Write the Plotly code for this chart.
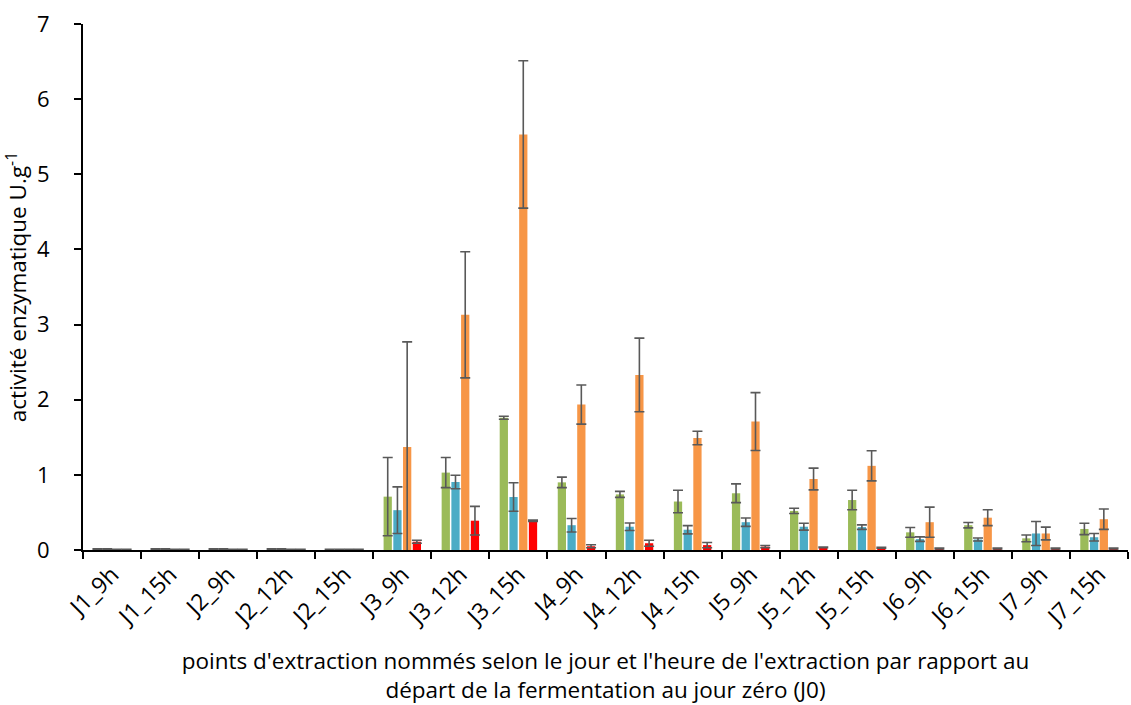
import plotly.graph_objects as go

categories = ["J1_9h", "J1_15h", "J2_9h", "J2_12h", "J2_15h", "J3_9h", "J3_12h", "J3_15h",
              "J4_9h", "J4_12h", "J4_15h", "J5_9h", "J5_12h", "J5_15h", "J6_9h", "J6_15h",
              "J7_9h", "J7_15h"]

green = [0.01, 0.01, 0.01, 0.01, 0.005, 0.71, 1.03, 1.76, 0.90, 0.74, 0.645, 0.755, 0.52, 0.665, 0.235, 0.33, 0.155, 0.28]
green_err = [0.005, 0.005, 0.005, 0.005, 0.003, 0.52, 0.20, 0.02, 0.07, 0.04, 0.15, 0.125, 0.035, 0.13, 0.065, 0.035, 0.045, 0.075]

blue = [0.01, 0.01, 0.01, 0.01, 0.005, 0.53, 0.905, 0.705, 0.33, 0.31, 0.27, 0.37, 0.31, 0.305, 0.145, 0.14, 0.22, 0.17]
blue_err = [0.005, 0.005, 0.005, 0.005, 0.003, 0.31, 0.09, 0.19, 0.09, 0.05, 0.055, 0.055, 0.045, 0.03, 0.03, 0.02, 0.16, 0.05]

orange = [0.005, 0.005, 0.005, 0.005, 0.005, 1.37, 3.13, 5.53, 1.935, 2.33, 1.49, 1.71, 0.945, 1.12, 0.37, 0.43, 0.22, 0.41]
orange_err = [0.003, 0.003, 0.003, 0.003, 0.003, 1.40, 0.84, 0.98, 0.26, 0.49, 0.09, 0.385, 0.145, 0.20, 0.20, 0.105, 0.085, 0.135]

red = [0.005, 0.005, 0.005, 0.005, 0.005, 0.11, 0.39, 0.39, 0.05, 0.09, 0.065, 0.045, 0.035, 0.03, 0.02, 0.02, 0.02, 0.02]
red_err = [0.003, 0.003, 0.003, 0.003, 0.003, 0.02, 0.19, 0.01, 0.02, 0.04, 0.035, 0.015, 0.005, 0.005, 0.005, 0.005, 0.005, 0.005]

series = [
    ("green", green, green_err, "#9BBB59"),
    ("blue", blue, blue_err, "#4BACC6"),
    ("orange", orange, orange_err, "#F79646"),
    ("red", red, red_err, "#FF0000"),
]

fig = go.Figure()
for name, vals, errs, col in series:
    fig.add_trace(go.Bar(
        x=categories, y=vals, name=name, marker_color=col,
        marker_line_width=0,
        error_y=dict(type="data", array=errs, visible=True, color="#595959",
                     thickness=1.6, width=5),
    ))

font_family = "'Open Sans', sans-serif"
fig.update_layout(
    width=1131, height=705,
    margin=dict(l=83, r=3, t=24, b=155),
    paper_bgcolor="white", plot_bgcolor="white",
    barmode="group", bargap=0.33, bargroupgap=0.15,
    showlegend=False,
    font=dict(family=font_family, color="#000000"),
)
fig.update_xaxes(
    type="category", tickson="boundaries", ticks="outside", ticklen=7, tickwidth=2,
    tickcolor="black", showline=True, linecolor="black", linewidth=2,
    tickangle=-45, tickfont=dict(size=23),
    title=dict(text="points d'extraction nommés selon le jour et l'heure de l'extraction par rapport au<br>départ de la fermentation au jour zéro (J0)",
               font=dict(size=22.5), standoff=26),
    showgrid=False,
)
fig.update_yaxes(
    range=[0, 7], dtick=1, ticks="outside", ticklen=7, tickwidth=2, tickcolor="black",
    showline=True, linecolor="black", linewidth=2, tickfont=dict(size=22),
    ticklabelstandoff=20,
    title=dict(text="activité enzymatique U.g<sup>-1</sup>", font=dict(size=22.5), standoff=6),
    showgrid=False, zeroline=False,
)

fig.write_html("out.html", config={"displayModeBar": False},
               post_script="document.body.style.margin='0px';")
